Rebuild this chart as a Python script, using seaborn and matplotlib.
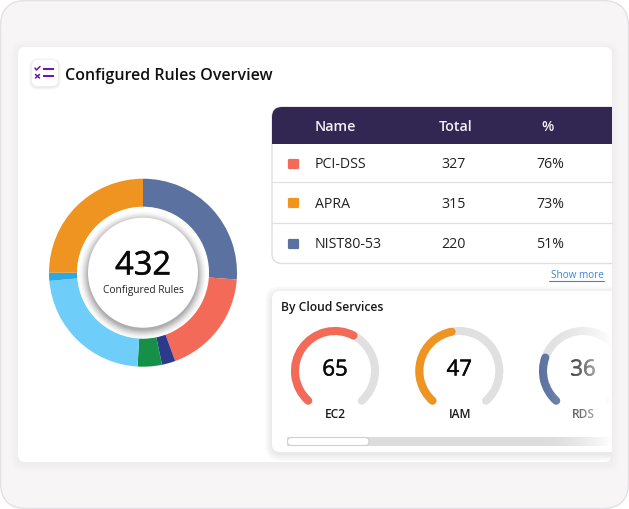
import numpy as np
import pandas as pd
import matplotlib
matplotlib.use("Agg")
import matplotlib.pyplot as plt
import matplotlib.patheffects as pe
import seaborn as sns
from matplotlib.patches import Arc, Circle, FancyBboxPatch, Rectangle

# donut slices, clockwise from the top
slice_values = [113, 79, 10, 18, 98, 6, 108]
slice_colors = ["#5b72a0", "#f46a59", "#2b3a8c", "#169049", "#6ecdf9", "#2aa9e4", "#ef9420"]
total_rules = "432"
total_label = "Configured Rules"

# table
table_headers = ["Name", "Total", "%"]
rule_names = ["PCI-DSS", "APRA", "NIST80-53"]
rule_totals = [327, 315, 220]
rule_pcts = ["76%", "73%", "51%"]
rule_colors = ["#f46a59", "#f2951f", "#5b72a0"]

# gauges
service_names = ["EC2", "IAM", "RDS"]
service_values = [65, 47, 36]
service_fill = [60, 46, 24.5]  # share of the arc that is coloured
service_colors = ["#f46a59", "#ef9420", "#5b72a0"]

sns.set_theme(style="white")
plt.rcParams["font.family"] = ["Open Sans", "DejaVu Sans"]

fig = plt.figure(figsize=(6.29, 5.09), dpi=100)
ax = fig.add_axes([0, 0, 1, 1])

medium = [pe.withStroke(linewidth=0.35, foreground="#0a0a0a")]


def round_box(x0, y0, x1, y1, r, **kw):
    p = FancyBboxPatch((x0 + r, y0 + r), x1 - x0 - 2 * r, y1 - y0 - 2 * r,
                       boxstyle=f"round,pad={r},rounding_size={r}", **kw)
    ax.add_patch(p)
    return p


# page and main card
round_box(0.5, 0.5, 628.5, 508.5, 26, fc="#f7f5f6", ec="#e3e1e3", lw=1, zorder=0)
for i in range(8, 0, -1):
    round_box(18 - i, 47 - i + 2, 612 + i, 462 + i + 2, 7 + i, fc="black", ec="none", alpha=0.005, zorder=2)
round_box(18, 47, 612, 462, 7, fc="white", ec="none", zorder=3)

# title and icon
for i in range(3, 0, -1):
    round_box(32 - i, 60 - i + 1, 58 + i, 86 + i + 1, 6 + i, fc="black", ec="none", alpha=0.025, zorder=4)
round_box(32, 60, 58, 86, 6, fc="white", ec="none", zorder=5)
purple = "#6a12a8"
ax.plot([42.5, 54], [68.5, 68.5], color=purple, lw=1.4, zorder=6, solid_capstyle="butt")
ax.plot([42.5, 54], [76, 76], color=purple, lw=1.4, zorder=6, solid_capstyle="butt")
ax.plot([35, 36.5, 40], [68, 70, 66.5], color=purple, lw=1.1, zorder=6)
ax.plot([35.5, 39.5], [74.5, 78], color=purple, lw=1.1, zorder=6)
ax.plot([35.5, 39.5], [78, 74.5], color=purple, lw=1.1, zorder=6)
ax.text(65, 76, "Configured Rules Overview", fontsize=11.55, fontweight=600, color="#111111",
        va="center", ha="left", zorder=6)

# donut, the y axis is inverted so angles run clockwise on screen
wedges, _ = ax.pie(slice_values, colors=slice_colors, startangle=-90, counterclock=True,
                   center=(143, 272.7), radius=94, frame=True,
                   wedgeprops={"width": 28.5, "linewidth": 0, "zorder": 4})
ax.add_patch(Circle((143, 272.7), 66, fc="white", ec="none", zorder=5))
for r, a in zip(np.arange(64, 55, -0.8), np.linspace(0.006, 0.05, 12)):
    ax.add_patch(Circle((143, 275), r, fc="black", ec="none", alpha=a, zorder=6))
ax.add_patch(Circle((143, 272.7), 55, fc="white", ec="none", zorder=7))
ax.text(143, 266, total_rules, fontsize=23.5, fontweight=400, color="#0a0a0a", ha="center", va="center",
        zorder=8, path_effects=medium)
ax.text(143, 290.5, total_label, fontsize=7.3, color="#222222", ha="center", va="center", zorder=8)

# table
main_clip = Rectangle((0, 0), 612, 509, transform=ax.transData)
table = round_box(272, 107, 660, 263.5, 10, fc="white", ec="#dfdfdf", lw=1, zorder=4)
table.set_clip_path(main_clip)
header = round_box(272, 107, 660, 170, 10, fc="#322653", ec="none", zorder=5)
header.set_clip_path(Rectangle((0, 0), 612, 144, transform=ax.transData))
for y in [181.5, 222.5]:
    ax.plot([272, 612], [y, y], color="#e0e0e0", lw=0.9, zorder=5)

header_x = [315, 439, 541]
for x, label in zip(header_x, table_headers):
    ax.text(x, 127, label, fontsize=10.3, fontweight=600, color="#f2f0f6", va="center", zorder=6)

row_y = [164, 203, 244]
for y, name, total, pct in zip(row_y, rule_names, rule_totals, rule_pcts):
    ax.text(315, y + 1, name, fontsize=10.2, color="#222222", va="center", zorder=6)
    ax.text(441, y + 1, str(total), fontsize=10.2, color="#222222", va="center", zorder=6)
    ax.text(536, y + 1, pct, fontsize=10.2, color="#222222", va="center", zorder=6)

swatches = pd.DataFrame({"x": 293.5, "y": row_y, "name": rule_names})
sns.scatterplot(data=swatches, x="x", y="y", hue="name", palette=dict(zip(rule_names, rule_colors)),
                marker="s", s=40, linewidth=1.6, edgecolor="face", legend=False, ax=ax, zorder=6)
ax.collections[-1].set_joinstyle("round")

ax.text(604, 276, "Show more", fontsize=7.2, color="#3b86d8", ha="right", va="center", zorder=6)
ax.plot([549, 604], [281, 281], color="#3b86d8", lw=0.8, zorder=6)

# cloud services panel
for i in range(7, 0, -1):
    p = round_box(272 - i, 291 - i + 2, 660 + i, 452 + i + 2, 8 + i, fc="black", ec="none", alpha=0.012, zorder=4)
    p.set_clip_path(main_clip)
panel = round_box(272, 291, 660, 452, 8, fc="white", ec="none", zorder=4.5)
panel.set_clip_path(main_clip)
ax.text(281, 307, "By Cloud Services", fontsize=8.7, fontweight=600, color="#1a1a1a", va="center", zorder=6)

gauge_x = [335, 459.3, 583]
gauge_y = 371
sweep = 138
for x, name, val, fill, col in zip(gauge_x, service_names, service_values, service_fill, service_colors):
    end = -sweep + 2 * sweep * fill / 100
    back = Arc((x, gauge_y), 80, 80, theta1=-sweep - 90, theta2=sweep - 90, color="#e0e0e0", lw=5.8,
               capstyle="round", zorder=6)
    front = Arc((x, gauge_y), 80, 80, theta1=-sweep - 90, theta2=end - 90, color=col, lw=5.8,
                capstyle="round", zorder=7)
    ax.add_patch(back)
    ax.add_patch(front)
    back.set_clip_path(main_clip)
    front.set_clip_path(main_clip)
    ax.text(x, 370, str(val), fontsize=16, fontweight=400, color="#0a0a0a", ha="center", va="center",
            zorder=8, path_effects=medium)
    ax.text(x + 0.5, 414, name, fontsize=8.6, fontweight=600, color="#1a1a1a", ha="center", va="center", zorder=8)

# scrollbar
track = Rectangle((287, 437), 325, 9, fc="#dcdcdc", ec="none", zorder=6)
ax.add_patch(track)
round_box(287.5, 437.5, 369, 445.5, 4, fc="white", ec="#cfcfcf", lw=0.8, zorder=7)

# fade towards the right edge of the panel
fade = np.zeros((1, 82, 4))
fade[..., :3] = 1
fade[..., 3] = np.linspace(0, 1, 82) ** 2
ax.imshow(fade, extent=(530, 612, 452, 292), aspect="auto", zorder=9, interpolation="bilinear")

ax.set_xlim(0, 629)
ax.set_ylim(509, 0)
ax.set_aspect("auto")
ax.axis("off")
fig.savefig("out.png", dpi=100, facecolor="white")
